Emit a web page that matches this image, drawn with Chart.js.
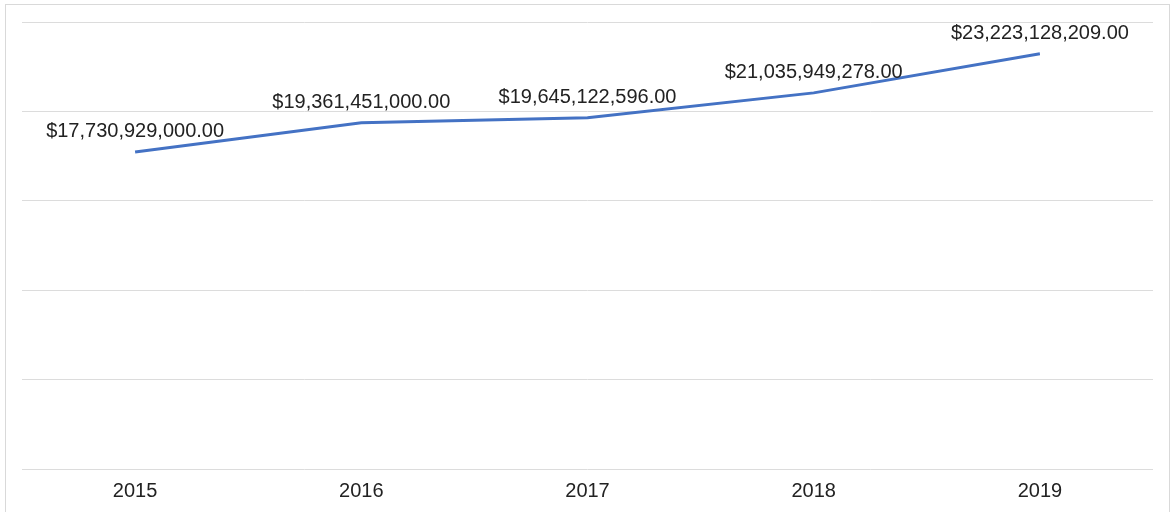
<!DOCTYPE html>
<html>
<head>
<meta charset="utf-8">
<script src="https://cdn.jsdelivr.net/npm/chart.js@4/dist/chart.umd.min.js"></script>
<style>
  body { margin: 0; background: #fff; }
  #frame { position: absolute; left: 5px; top: 4px; width: 1163px; height: 520px; border: 1px solid #d9d9d9; }
  #chartArea { position: absolute; left: 0; top: 0; }
</style>
</head>
<body>
<div id="frame"></div>
<canvas id="chartArea" width="1170" height="512"></canvas>
<script>
const chartArea = document.getElementById("chartArea");

var years = ["2015", "2016", "2017", "2018", "2019"];
var amounts = [17730929000.00, 19361451000.00, 19645122596.00, 21035949278.00, 23223128209.00];
var yTicks = [0, 5000000000, 10000000000, 15000000000, 20000000000, 25000000000];

//format as dollars with two decimals
function money(v) {
    return "$" + v.toLocaleString("en-US", { minimumFractionDigits: 2, maximumFractionDigits: 2 });
}

//draw the value over each point
var labelPlugin = {
    id: "valueLabels",
    afterDatasetsDraw: function (chart) {
        var ctx = chart.ctx;
        var meta = chart.getDatasetMeta(0);
        ctx.save();
        ctx.font = "20px 'Liberation Sans', Arial, sans-serif";
        ctx.fillStyle = "#222";
        ctx.textAlign = "center";
        ctx.textBaseline = "alphabetic";
        for (var i = 0; i < meta.data.length; i++) {
            var pt = meta.data[i];
            ctx.fillText(money(amounts[i]), pt.x, pt.y - 15);
        }
        ctx.restore();
    }
};

var lineChart = new Chart(chartArea, {
    type: 'line',
    data: {
        labels: years,
        datasets: [{
            data: amounts,
            borderColor: '#4472c4',
            borderWidth: 3,
            pointRadius: 0,
            tension: 0,
            fill: false
        }]
    },
    options: {
        responsive: false,
        animation: false,
        layout: { padding: { left: 22, right: 17, top: 22, bottom: 0 } },
        plugins: {
            legend: { display: false },
            tooltip: { enabled: false }
        },
        scales: {
            x: {
                offset: true,
                grid: { display: false, drawTicks: false },
                border: { display: false },
                ticks: { color: '#222', padding: 10, font: { family: "'Liberation Sans', Arial, sans-serif", size: 20 } },
                afterFit: function (axis) { axis.height = 43; }
            },
            y: {
                min: 0,
                max: 25000000000,
                afterBuildTicks: function (axis) { axis.ticks = yTicks.map(function (v) { return { value: v }; }); },
                grid: { color: '#dcdcdc', drawTicks: false },
                border: { display: false },
                ticks: { display: false }
            }
        }
    },
    plugins: [labelPlugin]
});
</script>
</body>
</html>
